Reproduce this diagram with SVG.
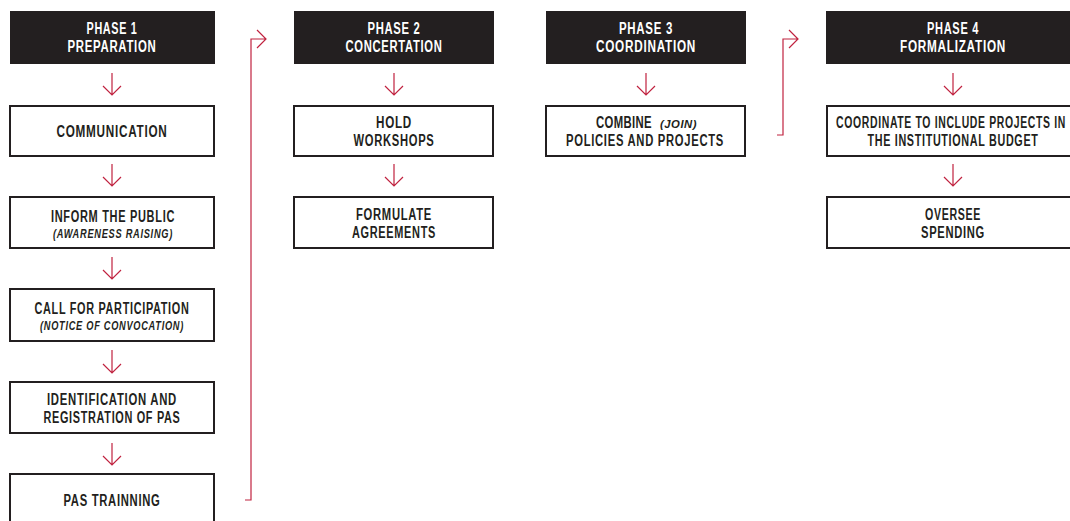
<svg xmlns="http://www.w3.org/2000/svg" width="1070" height="521" viewBox="0 0 1070 521">
<defs>
<style>
.hdr{fill:#231f20}
.box{fill:#fff;stroke:#231f20;stroke-width:2}
.ht{font-family:"Liberation Sans",Arial,sans-serif;font-weight:bold;font-size:16px;letter-spacing:1px;fill:#fff;text-anchor:middle}
.bt{font-family:"Liberation Sans",Arial,sans-serif;font-weight:bold;font-size:16px;letter-spacing:1px;fill:#231f20;text-anchor:middle}
.it{font-family:"Liberation Sans",Arial,sans-serif;font-weight:bold;font-style:italic;font-size:13px;letter-spacing:1px;fill:#231f20;text-anchor:middle}
.con{fill:none;stroke:#c0223f;stroke-width:1.2}
</style>
</defs>
<rect width="1070" height="521" fill="#fff"/>

<g id="connectors">
<path class="con" d="M112,73V95M103,86L112,95L121,86"/>
<path class="con" d="M112,164V186M103,177L112,186L121,177"/>
<path class="con" d="M112,257V279M103,270L112,279L121,270"/>
<path class="con" d="M112,350V373M103,364L112,373L121,364"/>
<path class="con" d="M112,443V465M103,456L112,465L121,456"/>
<path class="con" d="M394,73V95M385,86L394,95L403,86"/>
<path class="con" d="M394,164V186M385,177L394,186L403,177"/>
<path class="con" d="M646,73V95M637,86L646,95L655,86"/>
<path class="con" d="M953,73V95M944,86L953,95L962,86"/>
<path class="con" d="M953,164V186M944,177L953,186L962,177"/>
<path class="con" d="M245,500H251V39H266M257,30L266,39L257,48"/>
<path class="con" d="M777,135H783V39H798M789,30L798,39L789,48"/>
</g>

<g id="phase1">
<rect class="hdr" x="10" y="11" width="205" height="53"/>
<text class="ht" x="112" y="34" textLength="51" lengthAdjust="spacingAndGlyphs">PHASE 1</text>
<text class="ht" x="112" y="52" textLength="89" lengthAdjust="spacingAndGlyphs">PREPARATION</text>
</g>
<g id="communication">
<rect class="box" x="10" y="106" width="204" height="50"/>
<text class="bt" x="112" y="137" textLength="111" lengthAdjust="spacingAndGlyphs">COMMUNICATION</text>
</g>
<g id="inform">
<rect class="box" x="10" y="197" width="204" height="51"/>
<text class="bt" x="113" y="222" textLength="124" lengthAdjust="spacingAndGlyphs">INFORM THE PUBLIC</text>
<text class="it" x="113" y="238" textLength="120" lengthAdjust="spacingAndGlyphs">(AWARENESS RAISING)</text>
</g>
<g id="call">
<rect class="box" x="10" y="289" width="204" height="52"/>
<text class="bt" x="112" y="314" textLength="155" lengthAdjust="spacingAndGlyphs">CALL FOR PARTICIPATION</text>
<text class="it" x="112" y="330" textLength="144" lengthAdjust="spacingAndGlyphs">(NOTICE OF CONVOCATION)</text>
</g>
<g id="identification">
<rect class="box" x="10" y="382" width="204" height="51"/>
<text class="bt" x="112" y="405" textLength="130" lengthAdjust="spacingAndGlyphs">IDENTIFICATION AND</text>
<text class="bt" x="112" y="423" textLength="137" lengthAdjust="spacingAndGlyphs">REGISTRATION OF PAS</text>
</g>
<g id="training">
<rect class="box" x="10" y="474" width="204" height="60"/>
<text class="bt" x="112" y="506" textLength="97" lengthAdjust="spacingAndGlyphs">PAS TRAINNING</text>
</g>

<g id="phase2">
<rect class="hdr" x="294" y="11" width="200" height="53"/>
<text class="ht" x="394" y="34" textLength="53" lengthAdjust="spacingAndGlyphs">PHASE 2</text>
<text class="ht" x="394" y="52" textLength="97" lengthAdjust="spacingAndGlyphs">CONCERTATION</text>
</g>
<g id="workshops">
<rect class="box" x="294" y="106" width="199" height="50"/>
<text class="bt" x="394" y="128" textLength="36" lengthAdjust="spacingAndGlyphs">HOLD</text>
<text class="bt" x="394" y="146" textLength="81" lengthAdjust="spacingAndGlyphs">WORKSHOPS</text>
</g>
<g id="agreements">
<rect class="box" x="294" y="197" width="199" height="51"/>
<text class="bt" x="394" y="220" textLength="76" lengthAdjust="spacingAndGlyphs">FORMULATE</text>
<text class="bt" x="394" y="238" textLength="84" lengthAdjust="spacingAndGlyphs">AGREEMENTS</text>
</g>

<g id="phase3">
<rect class="hdr" x="546" y="11" width="200" height="53"/>
<text class="ht" x="646" y="34" textLength="54" lengthAdjust="spacingAndGlyphs">PHASE 3</text>
<text class="ht" x="646" y="52" textLength="100" lengthAdjust="spacingAndGlyphs">COORDINATION</text>
</g>
<g id="combine">
<rect class="box" x="546" y="106" width="199" height="50"/>
<text class="bt" x="596" y="128" style="text-anchor:start;letter-spacing:0.5px" textLength="56" lengthAdjust="spacingAndGlyphs">COMBINE</text>
<text class="it" x="660" y="128" style="text-anchor:start;font-size:11px;letter-spacing:0.5px" textLength="37" lengthAdjust="spacingAndGlyphs">(JOIN)</text>
<text class="bt" x="645" y="146" textLength="158" lengthAdjust="spacingAndGlyphs">POLICIES AND PROJECTS</text>
</g>

<g id="phase4">
<rect class="hdr" x="826" y="11" width="260" height="53"/>
<text class="ht" x="953" y="34" textLength="52" lengthAdjust="spacingAndGlyphs">PHASE 4</text>
<text class="ht" x="953" y="52" textLength="106" lengthAdjust="spacingAndGlyphs">FORMALIZATION</text>
</g>
<g id="budget">
<rect class="box" x="827" y="106" width="260" height="50"/>
<text class="bt" x="951" y="128" textLength="230" lengthAdjust="spacingAndGlyphs">COORDINATE TO INCLUDE PROJECTS IN</text>
<text class="bt" x="953" y="146" textLength="171" lengthAdjust="spacingAndGlyphs">THE INSTITUTIONAL BUDGET</text>
</g>
<g id="spending">
<rect class="box" x="827" y="197" width="260" height="51"/>
<text class="bt" x="953" y="220" textLength="56" lengthAdjust="spacingAndGlyphs">OVERSEE</text>
<text class="bt" x="953" y="238" textLength="64" lengthAdjust="spacingAndGlyphs">SPENDING</text>
</g>
</svg>
